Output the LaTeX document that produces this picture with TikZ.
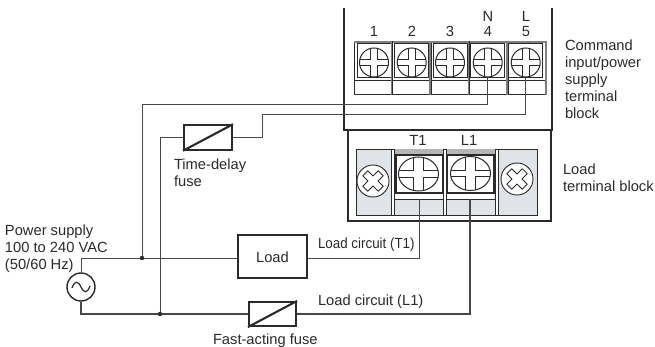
\documentclass[tikz,border=0pt]{standalone}
\usepackage{fontspec}
\setmainfont{Liberation Sans}
\usetikzlibrary{calc}
\definecolor{ink}{HTML}{2A2A2A}
\definecolor{wirec}{HTML}{484848}
\definecolor{panel}{HTML}{E0E3E8}
\tikzset{
  lab/.style={inner sep=0pt,outer sep=0pt,text=ink,font=\fontsize{14.7}{17}\selectfont,align=left},
  cen/.style={inner sep=0pt,outer sep=0pt,text=ink,font=\fontsize{14.7}{17}\selectfont,anchor=base},
  wire/.style={draw=wirec,line width=1pt},
  fr/.style={draw=ink,line width=1.9pt},
  thin/.style={draw=ink,line width=0.7pt},
  boxy/.style={draw=ink,line width=2.1pt,minimum width=0pt,inner sep=0pt},
  dot/.style={circle,fill=ink,minimum size=4.5pt,inner sep=0pt},
}
% name, x, y, rx, ry, half bar x, half bar y
\newcommand\ScrewCross[7]{%
  \coordinate (#1) at (#2,#3);
  \begin{scope}[shift={(#2,#3)}]
    \fill[white] (0,0) ellipse [x radius=#4,y radius=#5];
    \begin{scope}
      \clip (0,0) ellipse [x radius=#4,y radius=#5];
      \foreach \sx in {-1,1} \foreach \sy in {-1,1}
        \draw[thin] (\sx*#6,\sy*#5) -- (\sx*#6,\sy*#7) -- (\sx*#4,\sy*#7);
    \end{scope}
    \draw[thin,line width=1pt] (0,0) ellipse [x radius=#4,y radius=#5];
  \end{scope}}
\newcommand\ScrewX[3]{%
  \begin{scope}[shift={(#2,#3)}]
    \coordinate (#1) at (0,0);
    \draw[thin,fill=white,line width=0.9pt] (0,0) circle [radius=16];
    \draw[thin,line width=0.8pt,rotate=45,line join=round]
      (-3.5,-3.5) -- (-3.5,-11) -- (3.5,-11) -- (3.5,-3.5) -- (11,-3.5) -- (11,3.5) -- (3.5,3.5) -- (3.5,11) -- (-3.5,11) -- (-3.5,3.5) -- (-11,3.5) -- (-11,-3.5) -- cycle;
  \end{scope}}
% x left, cell name, screw centre x
\newcommand\UCell[3]{%
  \draw[thin,line width=1pt] (#1,41.5) rectangle ++(38.5,53.5);
  \draw[thin,line width=1pt] (#3-17,43.5) rectangle (#3+17,78);
  \draw[thin] (#1,80.5) -- ++(38.5,0);
  \fill[ink!60] (#1+36.7,41.5) rectangle ++(1.8,53.5);
  \fill[ink!60] (#1,41.5) rectangle ++(38.5,1.8);
  \ScrewCross{#2}{#3}{62.5}{14.5}{14.5}{3.2}{3.2}
}
\begin{document}
\begin{tikzpicture}[x=1pt,y=-1pt]
\useasboundingbox (0,0) rectangle (655,347);
% frames
\draw[fr] (344,8) -- (344,130) -- (552,130) -- (552,8);
\draw[fr] (348,130) -- (348,221) -- (551,221) -- (551,130);
% upper strip
\UCell{354}{s1}{374}
\UCell{392.5}{s2}{411.7}
\UCell{431}{s3}{450}
\UCell{469.5}{s4}{487.7}
\UCell{508}{s5}{525.7}
% lower block
\fill[panel] (356,149) rectangle (537,215);
\draw[thin] (356,149) rectangle (537,215);
\fill[ink!35] (392,149) rectangle (497,155);
\fill[white] (395,155) rectangle (494,199);
\draw[thin,line width=1.2pt] (396,155) rectangle (442.5,193);
\draw[thin,line width=1.2pt] (447.5,155) rectangle (494,193);
\draw[thin] (392,199) -- (497,199);
\foreach \x in {391,443,495}
  \draw[thin,fill=white,line width=0.9pt] (\x,149) rectangle ++(3.6,66);
\ScrewCross{t1}{418.5}{174}{20}{17}{5}{3.2}
\ScrewCross{l1}{470.5}{173.5}{20}{17}{5}{3.2}
\ScrewX{xa}{373}{181}
\ScrewX{xb}{517}{179}
% labels on terminals
\foreach \n/\x in {1/374,2/412,3/450,4/488,5/526} \node[cen] at (\x,37) {\n};
\node[cen] at (488,21.5) {N};
\node[cen] at (526,21.5) {L};
\node[cen] at (418,146) {T1};
\node[cen] at (469,146) {L1};
% devices
\node[boxy,minimum width=69pt,minimum height=43pt] (load) at (272.5,256.5) {};
\node[cen] at (272.5,262.5) {Load};
\node[boxy,minimum width=48pt,minimum height=24.5pt] (f1) at (208,137.5) {};
\draw[boxy] (f1.south west) -- (f1.north east);
\node[boxy,minimum width=47pt,minimum height=24pt] (f2) at (272.5,314) {};
\draw[boxy] (f2.south west) -- (f2.north east);
\node[circle,draw=ink,line width=1.4pt,minimum size=28pt,inner sep=0pt] (ac) at (81,287) {};
\draw[ink,line width=1.2pt] (72,288) .. controls (75,280) and (78,281) .. (81,287) .. controls (84,293) and (87,294) .. (90,286);
% junctions
\node[dot] (j1) at (142,258) {};
\node[dot] (j2) at (160,314) {};
% wires
\coordinate (b4) at (487.7,78);
\coordinate (b5) at (525.7,78);
\coordinate (b1) at (419.5,199);
\coordinate (b2) at (470,199);
\draw[wire] (b4) |- (142,105) -- (j1);
\draw[wire] (b5) |- (262,115) |- (f1.east);
\draw[wire] (f1.west) -| (j2);
\draw[wire] (ac.north) |- (j1) -- (load.west |- j1);
\draw[wire,line width=1.2pt] (ac.south) |- (j2) -- (f2.west);
\draw[wire,line width=1.2pt] (f2.east) -| (b2);
\draw[wire] (load.east |- j1) -| (b1);
% text
\node[lab,anchor=north west] at (5,224.5) {Power supply\\100 to 240 VAC\\(50/60 Hz)};
\node[lab,anchor=north west] at (565,40) {Command\\input/power\\supply\\terminal\\block};
\node[lab,anchor=north west] at (563,164) {Load\\terminal block};
\node[lab,anchor=north west] at (174,159) {Time-delay\\fuse};
\node[cen,anchor=base west] at (213,344) {Fast-acting fuse};
\node[cen,anchor=base west] at (318,305) {Load circuit (L1)};
\node[cen,anchor=base west] at (318,248) {\scalebox{0.91}[1]{Load circuit (T1)}};
\end{tikzpicture}
\end{document}
